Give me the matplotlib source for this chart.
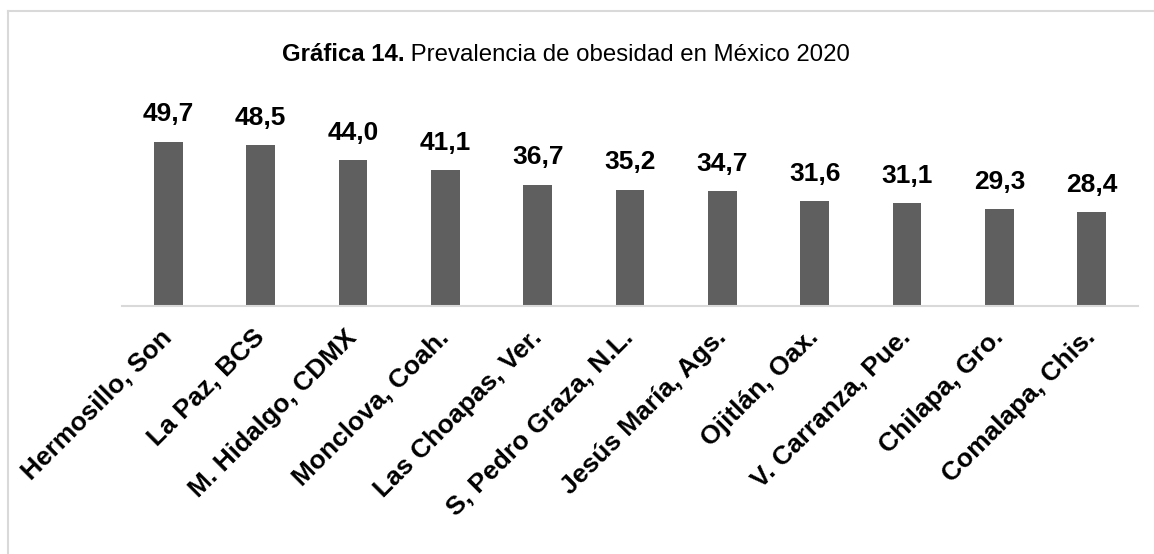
import matplotlib
matplotlib.use('Agg')
import matplotlib.pyplot as plt
import numpy as np

plt.rcParams['font.family'] = ['Liberation Sans', 'DejaVu Sans']

ciudades = ['Hermosillo, Son', 'La Paz, BCS', 'M. Hidalgo, CDMX', 'Monclova, Coah.',
            'Las Choapas, Ver.', 'S, Pedro Graza, N.L.', 'Jesús María, Ags.',
            'Ojitlán, Oax.', 'V. Carranza, Pue.', 'Chilapa, Gro.', 'Comalapa, Chis.']
obesidad = [49.7, 48.5, 44.0, 41.1, 36.7, 35.2, 34.7, 31.6, 31.1, 29.3, 28.4]

fig = plt.figure(figsize=(11.54, 5.54), dpi=100)
ax = fig.add_axes([0.106, 0.4477, 0.880, 0.3285])

x = np.arange(len(ciudades))
bars = ax.bar(x, obesidad, width=0.31, color='#5f5f5f')
ax.set_xlim(-0.5, len(ciudades) - 0.5)
ax.set_ylim(0, 55)

for xi, v in zip(x, obesidad):
    ax.annotate(f'{v:.1f}'.replace('.', ','), (xi, v), xytext=(0, 11), textcoords='offset points',
                ha='center', va='bottom', fontsize=19, fontweight='bold')

ax.set_xticks(x)
ax.set_xticklabels(ciudades, rotation=45, ha='right', va='center', rotation_mode='anchor',
                   fontsize=19, fontweight='bold')
ax.tick_params(axis='x', length=0, pad=20)
ax.set_yticks([])
for s in ['left', 'right', 'top']:
    ax.spines[s].set_visible(False)
ax.spines['bottom'].set_color('#d9d9d9')
ax.spines['bottom'].set_linewidth(1.5)

# marco del gráfico (solo borde superior e izquierdo visibles)
fig.add_artist(plt.Line2D([8 / 1154, 8 / 1154], [0, 1 - 11 / 554], color='#d9d9d9', lw=1.5))
fig.add_artist(plt.Line2D([8 / 1154, 1], [1 - 11 / 554, 1 - 11 / 554], color='#d9d9d9', lw=1.5))

# título: parte en negrita + parte normal, centrado
fig.canvas.draw()
r = fig.canvas.get_renderer()
t1 = fig.text(0, 0, 'Gráfica 14.', fontsize=17.3, fontweight='bold')
t2 = fig.text(0, 0, ' Prevalencia de obesidad en México 2020', fontsize=17.3)
w1 = t1.get_window_extent(r).width / fig.bbox.width
w2 = t2.get_window_extent(r).width / fig.bbox.width
x0 = 566 / 1154 - (w1 + w2) / 2
ty = 1 - 61 / 554
t1.set_position((x0, ty))
t2.set_position((x0 + w1, ty))

fig.savefig('out.png', dpi=100)
